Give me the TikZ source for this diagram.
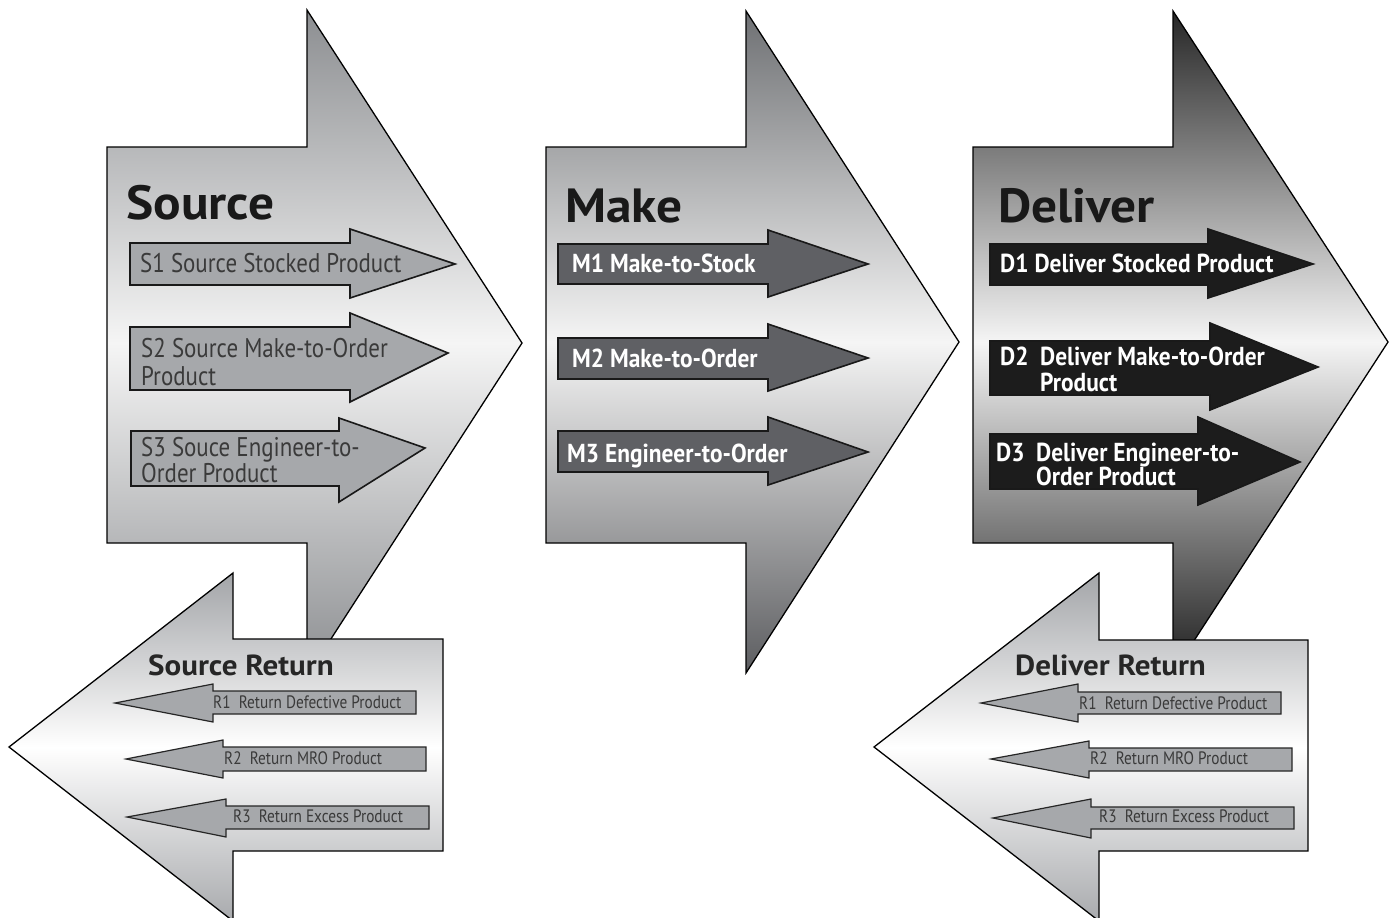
\documentclass[tikz,border=0pt]{standalone}
\usepackage{fontspec}
\setmainfont{PT Sans}
\newfontfamily\narrowsans[FakeStretch=0.85]{PT Sans}
\newfontfamily\boldnarrow[FakeStretch=0.9]{PT Sans}
\newfontfamily\widesans[FakeStretch=1.07]{PT Sans}

\definecolor{srctop}{HTML}{8C8E91}
\definecolor{mktop}{HTML}{6E7073}
\definecolor{mkbot}{HTML}{5C5D60}
\definecolor{dlvtop}{HTML}{262626}
\definecolor{dlvbot}{HTML}{1E1E1E}
\definecolor{lightmid}{HTML}{F5F5F5}
\definecolor{rettop}{HTML}{A3A5A8}
\definecolor{retbot}{HTML}{A8AAAD}
\definecolor{subgray}{HTML}{A6A8AB}
\definecolor{subdark}{HTML}{5F6064}
\definecolor{subblack}{HTML}{1C1C1C}
\definecolor{textgray}{HTML}{3A3A3A}

\begin{document}
\begin{tikzpicture}[x=1pt,y=-1pt,
    bigarrow/.style={draw=black, line width=1.3pt},
    subarrow/.style={draw=black!90, line width=1.6pt},
    retarrow/.style={draw=black!85, line width=1.2pt, fill=subgray},
    title/.style={inner sep=0pt, anchor=base west, text=black!90, font=\widesans\fontsize{48}{48}\selectfont\bfseries},
    rettitle/.style={inner sep=0pt, anchor=base west, text=black!85, font=\widesans\fontsize{29}{29}\selectfont\bfseries},
    srclabel/.style={inner sep=0pt, anchor=base west, align=left, text=textgray, font=\narrowsans\fontsize{27}{28}\selectfont},
    whitelabel/.style={inner sep=0pt, anchor=base west, align=left, text=white, font=\boldnarrow\bfseries\fontsize{26}{26}\selectfont},
    retlabel/.style={inner sep=0pt, anchor=base west, text=textgray, font=\narrowsans\fontsize{18}{18}\selectfont}]
    \useasboundingbox (0,0) rectangle (1390,918);

    % Big arrows
    \draw[bigarrow, top color=srctop, bottom color=srctop, middle color=lightmid]
        (107,147) -- (307,147) -- (307,10) -- (522,343) -- (307,676) -- (307,543) -- (107,543) -- cycle;
    \draw[bigarrow, top color=mktop, bottom color=mkbot, middle color=lightmid]
        (546,147) -- (746,147) -- (746,11) -- (959,342) -- (746,673) -- (746,543) -- (546,543) -- cycle;
    \draw[bigarrow, top color=dlvtop, bottom color=dlvbot, middle color=lightmid]
        (973,147) -- (1173,147) -- (1173,11) -- (1388,342) -- (1173,673) -- (1173,543) -- (973,543) -- cycle;

    % Titles
    \node[title] (source) at (126,219) {Source};
    \node[title] (make) at (565,222) {Make};
    \node[title] (deliver) at (998,222) {Deliver};

    % Source steps
    \draw[subarrow, fill=subgray] (130,243) -- (350,243) -- (350,229) -- (455,264) -- (350,298) -- (350,285) -- (130,285) -- cycle;
    \draw[subarrow, fill=subgray] (130,327) -- (350,327) -- (350,313) -- (448,353) -- (350,402) -- (350,390) -- (130,390) -- cycle;
    \draw[subarrow, fill=subgray] (131,431) -- (339,431) -- (339,418) -- (425,448) -- (339,502) -- (339,486) -- (131,486) -- cycle;
    \node[srclabel] (s1) at (140,272) {S1 Source Stocked Product};
    \node[srclabel] (s2) at (141,385) {S2 Source Make-to-Order\\Product};
    \node[srclabel] (s3) at (141,482) {S3 Souce Engineer-to-\\[-2pt]Order Product};

    % Make steps
    \draw[subarrow, fill=subdark] (558,244) -- (768,244) -- (768,230) -- (868,264) -- (768,297) -- (768,284) -- (558,284) -- cycle;
    \draw[subarrow, fill=subdark] (558,338) -- (768,338) -- (768,324) -- (868,358) -- (768,391) -- (768,379) -- (558,379) -- cycle;
    \draw[subarrow, fill=subdark] (558,431) -- (768,431) -- (768,417) -- (868,452) -- (768,485) -- (768,472) -- (558,472) -- cycle;
    \node[whitelabel] (m1) at (572,272) {M1 Make-to-Stock};
    \node[whitelabel] (m2) at (572,367) {M2 Make-to-Order};
    \node[whitelabel] (m3) at (567,462) {M3 Engineer-to-Order};

    % Deliver steps
    \draw[subarrow, fill=subblack] (990,244) -- (1208,244) -- (1208,229) -- (1313,264) -- (1208,298) -- (1208,285) -- (990,285) -- cycle;
    \draw[subarrow, fill=subblack] (990,341) -- (1210,341) -- (1210,323) -- (1318,367) -- (1210,410) -- (1210,395) -- (990,395) -- cycle;
    \draw[subarrow, fill=subblack] (990,434) -- (1198,434) -- (1198,417) -- (1300,462) -- (1198,505) -- (1198,489) -- (990,489) -- cycle;
    \node[whitelabel] (d1) at (1000,272) {D1 Deliver Stocked Product};
    \node[whitelabel] (d2) at (1000,365) {D2};
    \node[whitelabel] (d2t) at (1040,391) {Deliver Make-to-Order\\Product};
    \node[whitelabel] (d3) at (996,461) {D3};
    \node[whitelabel] (d3t) at (1036,485) {Deliver Engineer-to-\\[-2pt]Order Product};

    % Return arrows
    \draw[bigarrow, top color=rettop, bottom color=retbot, middle color=white]
        (9,747) -- (233,573) -- (233,639) -- (443,639) -- (443,851) -- (233,851) -- (233,921) -- cycle;
    \draw[bigarrow, top color=rettop, bottom color=retbot, middle color=white]
        (874,747) -- (1099,573) -- (1099,640) -- (1308,640) -- (1308,851) -- (1099,851) -- (1099,921) -- cycle;

    \node[rettitle] (sret) at (148,675) {Source Return};
    \node[rettitle] (dret) at (1015,675) {Deliver Return};

    % Source return steps
    \draw[retarrow] (115,703) -- (213,684) -- (213,691) -- (416,691) -- (416,714) -- (213,714) -- (213,722) -- cycle;
    \draw[retarrow] (126,759) -- (223,740) -- (223,747) -- (426,747) -- (426,771) -- (223,771) -- (223,778) -- cycle;
    \draw[retarrow] (127,817) -- (226,799) -- (226,806) -- (429,806) -- (429,829) -- (226,829) -- (226,837) -- cycle;
    \node[retlabel] (sr1) at (213,708) {R1\ \ Return Defective Product};
    \node[retlabel] (sr2) at (224,764) {R2\ \ Return MRO Product};
    \node[retlabel] (sr3) at (233,822) {R3\ \ Return Excess Product};

    % Deliver return steps
    \draw[retarrow] (981,703) -- (1078,684) -- (1078,692) -- (1281,692) -- (1281,714) -- (1078,714) -- (1078,722) -- cycle;
    \draw[retarrow] (991,759) -- (1089,741) -- (1089,748) -- (1292,748) -- (1292,771) -- (1089,771) -- (1089,778) -- cycle;
    \draw[retarrow] (993,818) -- (1091,799) -- (1091,807) -- (1294,807) -- (1294,829) -- (1091,829) -- (1091,838) -- cycle;
    \node[retlabel] (dr1) at (1079,709) {R1\ \ Return Defective Product};
    \node[retlabel] (dr2) at (1090,764) {R2\ \ Return MRO Product};
    \node[retlabel] (dr3) at (1099,822) {R3\ \ Return Excess Product};
\end{tikzpicture}
\end{document}
